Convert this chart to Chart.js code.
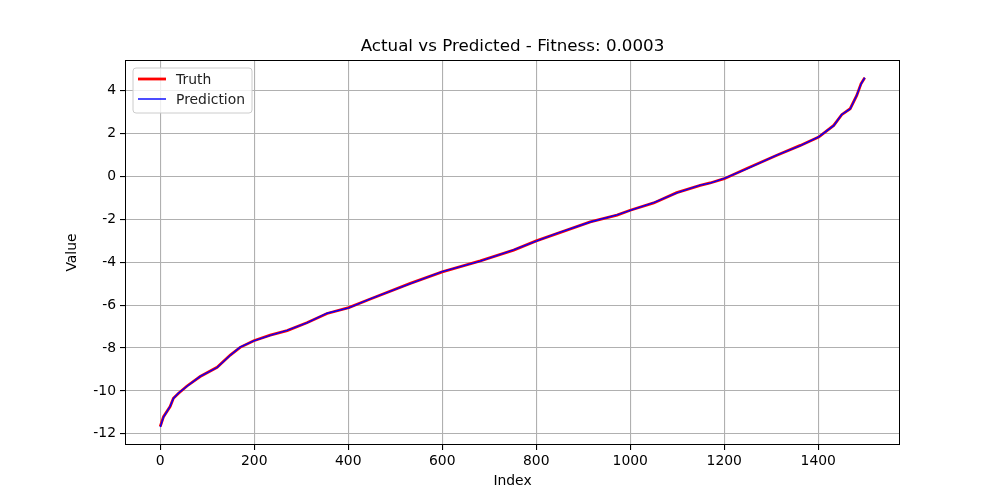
<!DOCTYPE html>
<html>
<head>
<meta charset="utf-8">
<script src="https://cdn.jsdelivr.net/npm/chart.js@4/dist/chart.umd.min.js"></script>
<style>
  html, body { margin: 0; padding: 0; background: #fff; }
  #wrap { width: 1000px; height: 500px; }
</style>
</head>
<body>
<div id="wrap"><canvas id="chart"></canvas></div>
<script>
// values
var indexValues = [0, 7, 21, 28, 39, 57, 85, 121, 149, 170, 199, 234, 270, 312, 355, 401, 447, 532, 600, 681, 752, 800, 844, 915, 972, 1000, 1050, 1099, 1149, 1170, 1200, 1248, 1312, 1362, 1401, 1433, 1450, 1468, 1482, 1491, 1499];
var truthValues = [-11.66, -11.2, -10.73, -10.34, -10.11, -9.77, -9.33, -8.9, -8.33, -7.97, -7.66, -7.4, -7.19, -6.82, -6.39, -6.12, -5.72, -4.99, -4.45, -3.94, -3.44, -3.01, -2.67, -2.12, -1.81, -1.58, -1.24, -0.76, -0.42, -0.31, -0.11, 0.36, 0.98, 1.44, 1.83, 2.37, 2.87, 3.15, 3.77, 4.31, 4.59];
var predictionValues = [-11.68, -11.22, -10.72, -10.35, -10.1, -9.78, -9.32, -8.91, -8.34, -7.96, -7.67, -7.41, -7.18, -6.83, -6.38, -6.13, -5.71, -5.0, -4.44, -3.95, -3.43, -3.02, -2.66, -2.13, -1.8, -1.59, -1.23, -0.77, -0.41, -0.32, -0.1, 0.35, 0.99, 1.43, 1.84, 2.36, 2.88, 3.14, 3.78, 4.3, 4.6];
var xTicks = [0, 200, 400, 600, 800, 1000, 1200, 1400];
var yTicks = [-12, -10, -8, -6, -4, -2, 0, 2, 4];
var chartTitle = "Actual vs Predicted - Fitness: 0.0003";

var font = "'DejaVu Sans', sans-serif";

var toPoints = function (xs, ys) {
  var pts = [];
  for (var i = 0; i < xs.length; i++) {
    pts.push({ x: xs[i], y: ys[i] });
  }
  return pts;
};

// frame, title over the plot area, and a matplotlib-like legend box
var framePlugin = {
  id: "frame",
  afterDraw: function (chart) {
    var ctx = chart.ctx;
    var a = chart.chartArea;
    ctx.save();
    ctx.strokeStyle = "#000";
    ctx.lineWidth = 1;
    ctx.strokeRect(a.left + 0.5, a.top + 0.5, a.right - a.left - 1, a.bottom - a.top - 1);

    ctx.fillStyle = "#000";
    ctx.font = "16.7px " + font;
    ctx.textAlign = "center";
    ctx.textBaseline = "middle";
    ctx.fillText(chartTitle, (a.left + a.right) / 2, a.top - 13);

    var bx = a.left + 8, by = a.top + 8, bw = 119, bh = 45;
    ctx.fillStyle = "rgba(255,255,255,0.8)";
    ctx.strokeStyle = "#cccccc";
    ctx.beginPath();
    ctx.roundRect(bx, by, bw, bh, 3);
    ctx.fill();
    ctx.stroke();

    var sets = chart.data.datasets;
    var rows = [by + 11, by + 31];
    ctx.textAlign = "left";
    for (var i = 0; i < sets.length; i++) {
      ctx.strokeStyle = sets[i].borderColor;
      ctx.lineWidth = sets[i].borderWidth;
      ctx.beginPath();
      ctx.moveTo(bx + 5, rows[i]);
      ctx.lineTo(bx + 33, rows[i]);
      ctx.stroke();
      ctx.fillStyle = "#222";
      ctx.font = "13.9px " + font;
      ctx.fillText(sets[i].label, bx + 43, rows[i] + 1);
    }
    ctx.restore();
  }
};

var context = document.getElementById("chart").getContext("2d");
var chart = new Chart(context, {
  type: "line",
  data: {
    datasets: [
      {
        label: "Truth",
        data: toPoints(indexValues, truthValues),
        borderColor: "#ff0000",
        borderWidth: 2.8,
        pointRadius: 0,
        tension: 0,
        order: 2
      },
      {
        label: "Prediction",
        data: toPoints(indexValues, predictionValues),
        borderColor: "#0000ff",
        borderWidth: 1.4,
        pointRadius: 0,
        tension: 0,
        order: 1
      }
    ]
  },
  options: {
    responsive: true,
    maintainAspectRatio: false,
    animation: false,
    layout: { padding: { left: 64, right: 100, top: 60, bottom: 10 } },
    plugins: {
      legend: { display: false },
      tooltip: { enabled: false },
      title: { display: false }
    },
    scales: {
      x: {
        type: "linear",
        min: -75,
        max: 1574,
        afterBuildTicks: function (scale) {
          scale.ticks = xTicks.map(function (v) { return { value: v }; });
        },
        afterFit: function (scale) { scale.height = 45; },
        grid: { color: "#b0b0b0", lineWidth: 1.1, tickColor: "#000", tickLength: 5 },
        border: { display: false },
        ticks: {
          color: "#000", font: { family: font, size: 13.9 }, padding: 3, maxRotation: 0,
          callback: function (v) { return String(v); }
        },
        title: { display: true, text: "Index", color: "#000", font: { family: font, size: 13.9 }, padding: { top: 2, bottom: 0 } }
      },
      y: {
        type: "linear",
        min: -12.52,
        max: 5.42,
        afterBuildTicks: function (scale) {
          scale.ticks = yTicks.map(function (v) { return { value: v }; });
        },
        afterFit: function (scale) { scale.width = 61; },
        grid: { color: "#b0b0b0", lineWidth: 1.1, tickColor: "#000", tickLength: 5 },
        border: { display: false },
        ticks: {
          color: "#000", font: { family: font, size: 13.9 }, padding: 4,
          callback: function (v) { return String(v); }
        },
        title: { display: true, text: "Value", color: "#000", font: { family: font, size: 13.9 }, padding: { top: 0, bottom: 2 } }
      }
    }
  },
  plugins: [framePlugin]
});
</script>
</body>
</html>
